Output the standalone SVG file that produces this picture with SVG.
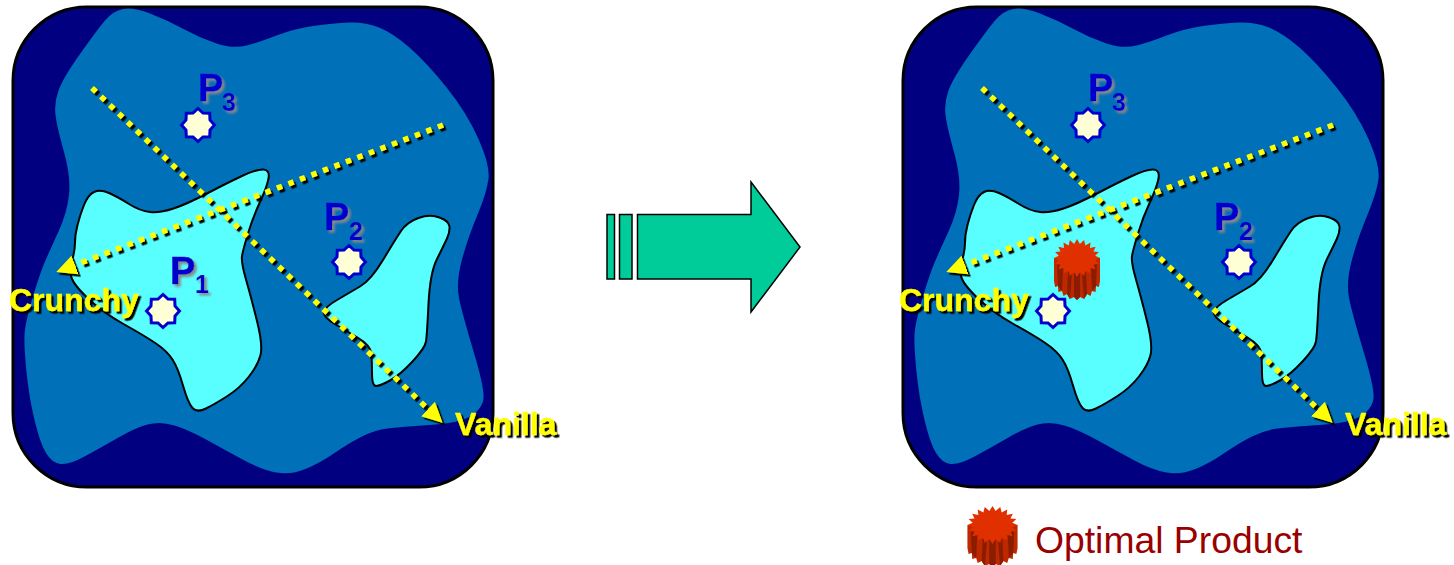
<svg xmlns="http://www.w3.org/2000/svg" xmlns:xlink="http://www.w3.org/1999/xlink" width="1454" height="565" viewBox="0 0 1454 565">
<style>
.board{fill:#000080;stroke:#000;stroke-width:3}
.mid{fill:#0070b8}
.seg{fill:#59ffff;stroke:#000;stroke-width:2}
.star{fill:#ffffd5;stroke:#0000cc;stroke-width:3}
.axis{fill:none;stroke:#ffff00;stroke-width:5.5;stroke-dasharray:5.5 6.8}
.ax{font:bold 32px "Liberation Sans",Arial,sans-serif;fill:#ffff00;stroke:#ffff00;stroke-width:.4;filter:url(#tshadow)}
.p{font:bold 38px "Liberation Sans",Arial,sans-serif;fill:#0000cc;stroke:#0000cc;stroke-width:.5;filter:url(#pshadow)}
.ps{font:bold 25px "Liberation Sans",Arial,sans-serif;fill:#0000cc;filter:url(#pshadow)}
.block{fill:#00cc99;stroke:#000;stroke-width:1.5}
.leg{font:37.3px "Liberation Sans",Arial,sans-serif;fill:#990000}
</style>
<defs>
<filter id="lshadow" filterUnits="userSpaceOnUse" x="0" y="0" width="1454" height="565"><feDropShadow dx="2.5" dy="2.5" stdDeviation="0" flood-color="#000"/></filter>
<filter id="tshadow" x="-10%" y="-20%" width="120%" height="140%"><feDropShadow dx="2.5" dy="2.5" stdDeviation="0.3" flood-color="#000"/></filter>
<filter id="pshadow" x="-30%" y="-30%" width="160%" height="160%"><feDropShadow dx="2.5" dy="2.5" stdDeviation="0.8" flood-color="#888"/></filter>
<marker id="head" markerUnits="userSpaceOnUse" markerWidth="22" markerHeight="22" refX="0" refY="11" orient="auto"><path d="M0,1 L20,11 L0,21 Z" fill="#ffff00"/></marker>
<path id="midblob" class="mid" d="M123,9 Q133,7 150,13.5 Q167,20 183.5,29 Q200,38 216.5,43.5 Q233,49 246.5,45.5 Q260,42 276.5,35.5 Q293,29 313,26 Q333,23 349,22.5 Q365,22 379,27.5 Q393,33 410,48 Q427,63 447,88 Q467,113 478.5,139 Q490,165 488.5,178.5 Q487,192 477,216 Q467,240 461.5,261.5 Q456,283 459,298 Q462,313 474,353 Q486,393 483,401.5 Q480,410 472.5,415 Q465,420 454.5,422 Q444,424 422,425.5 Q400,427 387.5,428.5 Q375,430 362,436.5 Q349,443 334.5,453 Q320,463 305.5,469 Q291,475 276.5,472.5 Q262,470 243.5,460 Q225,450 207,440 Q189,430 174.5,425.5 Q160,421 147.5,424.5 Q135,428 118.5,437.5 Q102,447 85.5,456 Q69,465 60.5,464 Q52,463 46,453 Q40,443 34.5,420 Q29,397 26.5,372 Q24,347 24.5,335 Q25,323 32.5,298 Q40,273 45,261.5 Q50,250 58.5,231.5 Q67,213 69,195 Q71,177 64,152 Q57,127 55.5,115 Q54,103 58.5,90.5 Q63,78 80,54 Q97,30 105,20.5 Q113,11 123,9 Z"/>
<path id="seg1" class="seg" d="M94,192 Q100,189 109,193 Q118,197 129,204 Q140,211 150,212 Q160,213 173.5,208.5 Q187,204 207,193.5 Q227,183 242,176 Q257,169 263.5,169.5 Q270,170 268.5,178.5 Q267,187 260,202 Q253,217 248,233.5 Q243,250 242,256 Q241,262 246,279.5 Q251,297 257,321 Q263,345 260.5,355 Q258,365 249,376.5 Q240,388 227.5,396 Q215,404 206,408.5 Q197,413 192.5,408 Q188,403 183,385.5 Q178,368 172.5,359.5 Q167,351 156,343.5 Q145,336 123.5,324 Q102,312 87,297.5 Q72,283 71,275.5 Q70,268 72.5,259 Q75,250 75,242.5 Q75,235 77.5,225 Q80,215 84,205 Q88,195 94,192 Z"/>
<path id="seg2" class="seg" d="M418.5,218 Q430,214 439.5,217.5 Q449,221 449.5,226.5 Q450,232 447,238.5 Q444,245 437,259 Q430,273 428.5,304 Q427,335 426,341.5 Q425,348 412.5,361.5 Q400,375 390,380.5 Q380,386 376,386 Q372,386 372,373 Q372,360 371,352.5 Q370,345 357.5,337.5 Q345,330 334,323.5 Q323,317 324,312 Q325,307 337,300 Q349,293 360,286.5 Q371,280 383,260 Q395,240 401,231 Q407,222 418.5,218 Z"/>
<polygon id="star8" class="star" points="16.5,0 12,5 11.7,11.7 5,12 0,16.5 -5,12 -11.7,11.7 -12,5 -16.5,0 -12,-5 -11.7,-11.7 -5,-12 0,-16.5 5,-12 11.7,-11.7 12,-5"/>
<g id="gear">
<path fill="#bd2800" d="M-23,0 L-23,23 L-21.9,29 L-19,28 L-18.6,34 L-15,33 L-13.5,38 L-10,36 L-7.1,41 L-3,39 L0,42 L3,39 L7.1,41 L10,36 L13.5,38 L15,33 L18.6,34 L19,28 L21.9,29 L23,23 L23,0 Z"/>
<path fill="#8a1d00" d="M-20,4 L-19,28 L-15,33 L-14,10 Z M-9,14 L-10,36 L-7,41 L-5,15 Z M-3,15 L-3,39 L0,42 L3,39 L3,15 Z M5,15 L7,41 L10,36 L9,14 Z M14,10 L15,33 L19,28 L20,4 Z"/>
<polygon fill="#e03000" points="23,0 18.2,2.2 21.9,5.9 16.5,6.5 18.6,11.2 13,10 13.5,15.4 8.4,12.5 7.1,18.1 2.9,14 0,19 -2.9,14 -7.1,18.1 -8.4,12.5 -13.5,15.4 -13,10 -18.6,11.2 -16.5,6.5 -21.9,5.9 -18.2,2.2 -23,0 -18.2,-2.2 -21.9,-5.9 -16.5,-6.5 -18.6,-11.2 -13,-10 -13.5,-15.4 -8.4,-12.5 -7.1,-18.1 -2.9,-14 0,-19 2.9,-14 7.1,-18.1 8.4,-12.5 13.5,-15.4 13,-10 18.6,-11.2 16.5,-6.5 21.9,-5.9 18.2,-2.2"/>
</g>
</defs>
<g id="map-left">
<rect class="board" x="13" y="7" width="480" height="480" rx="74"/>
<use href="#midblob"/>
<use href="#seg1"/>
<use href="#seg2"/>
</g>
<g id="map-right" transform="translate(890,0)">
<rect class="board" x="13" y="7" width="480" height="480" rx="74"/>
<use href="#midblob"/>
<use href="#seg1"/>
<use href="#seg2"/>
</g>
<g id="connectors" filter="url(#lshadow)">
<path class="axis" marker-end="url(#head)" d="M92,88 L428,409"/>
<path class="axis" marker-end="url(#head)" d="M443,125 L75,265"/>
<path class="axis" marker-end="url(#head)" d="M982,88 L1318,409"/>
<path class="axis" marker-end="url(#head)" d="M1333,125 L965,265"/>
</g>
<g id="p3-left"><use href="#star8" x="198" y="125"/><text class="p" x="198" y="101">P</text><text class="ps" x="222" y="111">3</text></g>
<g id="p2-left"><use href="#star8" x="349" y="262"/><text class="p" x="324" y="230">P</text><text class="ps" x="349" y="240">2</text></g>
<g id="p1-left"><use href="#star8" x="163" y="311"/><text class="p" x="170" y="284">P</text><text class="ps" x="195" y="293">1</text></g>
<g id="p3-right"><use href="#star8" x="1088" y="125"/><text class="p" x="1088" y="101">P</text><text class="ps" x="1112" y="111">3</text></g>
<g id="p2-right"><use href="#star8" x="1239" y="262"/><text class="p" x="1214" y="230">P</text><text class="ps" x="1239" y="240">2</text></g>
<g id="p1-right"><use href="#star8" x="1053" y="311"/></g>
<g id="optimal"><use href="#gear" x="1077" y="258"/></g>
<g id="label-crunchy-left"><text class="ax" x="9" y="311">Crunchy</text></g>
<g id="label-vanilla-left"><text class="ax" x="455" y="435">Vanilla</text></g>
<g id="label-crunchy-right"><text class="ax" x="899" y="311">Crunchy</text></g>
<g id="label-vanilla-right"><text class="ax" x="1345" y="435">Vanilla</text></g>
<g id="transition-arrow">
<rect class="block" x="607" y="214.5" width="7.5" height="64.5"/>
<rect class="block" x="619.5" y="214.5" width="12.5" height="64.5"/>
<path class="block" d="M637.5,214.5 H751 V182 L800,247 L751,312 V279 H637.5 Z"/>
</g>
<g id="legend">
<use href="#gear" transform="translate(992.5,525) scale(1.09,1)"/>
<text class="leg" x="1035" y="553">Optimal Product</text>
</g>
</svg>
